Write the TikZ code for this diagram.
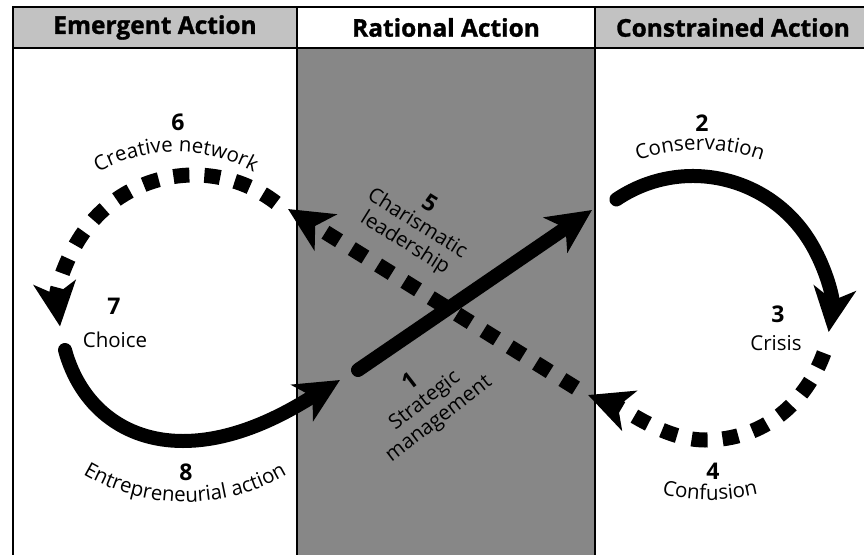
\documentclass[tikz,border=0pt]{standalone}
\usepackage{fontspec}
\setmainfont{Open Sans}
\newfontfamily\heavyfam{Open Sans}[BoldFeatures={FakeBold=1.2}]
\usetikzlibrary{arrows.meta,decorations.text}
\definecolor{midgray}{gray}{0.53}
\definecolor{hdrgray}{gray}{0.76}
\newcommand{\lblfont}{\fontsize{20.5}{23}\selectfont}
\newcommand{\numfont}{\fontsize{23}{25}\selectfont\bfseries}
\newcommand{\hdrfont}{\heavyfam\fontsize{24.5}{27}\selectfont\bfseries}
\begin{document}
\begin{tikzpicture}[x=1pt,y=1pt,
  hdrbox/.style={draw=black,line width=2.2pt,minimum height=41pt,inner sep=0pt,font=\hdrfont},
  num/.style={font=\numfont,inner sep=0pt},
  lbl/.style={font=\lblfont,inner sep=0pt},
  rotblock/.style={font=\lblfont,align=center,inner sep=0pt},
  solidarrow/.style={line width=14pt,line cap=round,-{Stealth[length=44pt,width=42pt,inset=12pt]}},
  dasharrow/.style={line width=15pt,dash pattern=on 16pt off 15pt,-{Stealth[length=44pt,width=42pt,inset=12pt]}},
  curvetext/.style={decorate,decoration={text along path,text align=center,text={#1}}},
]
\useasboundingbox (0,0) rectangle (864,-554);
\clip (0,0) rectangle (864,-554);
\fill[white] (0,0) rectangle (864,-554);
% middle column and panels
\fill[midgray] (297,-48) rectangle (595,-560);
\draw[line width=2.2pt] (297,-48) -- (297,-560);
\draw[line width=2.2pt] (595,-48) -- (595,-560);
\draw[line width=2.2pt] (13,-48) -- (13,-560);
% header
\node[hdrbox,fill=hdrgray,minimum width=284pt] (hE) at (155,-27.5) {Emergent Action};
\node[hdrbox,fill=white,minimum width=298pt] (hR) at (446,-27.5) {Rational Action};
\node[hdrbox,fill=hdrgray,minimum width=276pt] (hC) at (733,-27.5) {Constrained Action};

% centres of loops
\coordinate (c6) at (194,-310);
\coordinate (c2) at (693,-313);
% arrow 6: creative network (dashed arc)
\coordinate (s6) at ([shift={(52.5:135)}]c6);
\draw[dasharrow] (s6) arc[start angle=52.5,end angle=187,radius=135];
% arrow 8: entrepreneurial action (solid curve)
\coordinate (s8) at (65,-350);
\coordinate (m8) at (183,-441);
\coordinate (e8) at (340,-380);
\draw[solidarrow] (s8) .. controls (80,-405) and (123,-441) .. (m8)
  .. controls (243,-441) and (297,-406) .. (e8);
% arrow 2: conservation (solid arc)
\coordinate (s2) at ([shift={(124:137)}]c2);
\draw[solidarrow] (s2) arc[start angle=124,end angle=-8,radius=137];
% arrow 3-4: crisis / confusion (dashed curve)
\coordinate (s4) at (824,-353);
\coordinate (m4) at (705,-440);
\coordinate (e4) at (588,-395);
\draw[dasharrow] (s4) .. controls (806,-402) and (765,-440) .. (m4)
  .. controls (665,-440) and (625,-409) .. (e4);
% arrow 5: charismatic leadership (dashed straight)
\coordinate (s5) at (576,-388);
\coordinate (e5) at (288,-209);
\draw[dasharrow] (s5) -- (e5);
% arrow 1: strategic management (solid straight)
\coordinate (s1) at (358,-370);
\coordinate (e1) at (592,-210);
\draw[solidarrow] (s1) -- (e1);

% labels
\node[num] (n6) at (178,-122) {6};
\coordinate (t6) at ([shift={(130:160)}]176,-312);
\path[curvetext={|\lblfont|Creative network}] (t6) arc[start angle=130,end angle=50,radius=160];
\node[num] (n7) at (114,-306) {7};
\node[lbl] (l7) at (115,-340) {Choice};
\node[num] (n8) at (186,-472) {8};
\coordinate (t8) at ([shift={(234:202)}]185,-300);
\path[curvetext={|\lblfont|Entrepreneurial action}] (t8) arc[start angle=234,end angle=306,radius=202];
\node[num] (n2) at (702,-123) {2};
\coordinate (t2) at ([shift={(118:185)}]700,-335);
\path[curvetext={|\lblfont|Conservation}] (t2) arc[start angle=118,end angle=62,radius=185];
\node[num] (n3) at (778,-314) {3};
\node[lbl] (l3) at (776,-343) {Crisis};
\node[num] (n4) at (713,-471) {4};
\coordinate (t4) at ([shift={(246:200)}]710,-300);
\path[curvetext={|\lblfont|Confusion}] (t4) arc[start angle=246,end angle=294,radius=200];
\node[rotblock,rotate=-32] (l5) at (417,-224) {{\numfont 5}\\[-1pt]Charismatic\\leadership};
\node[rotblock,rotate=37.6] (l1) at (425,-401) {{\numfont 1}\\[-1pt]Strategic\\management};
\end{tikzpicture}
\end{document}
